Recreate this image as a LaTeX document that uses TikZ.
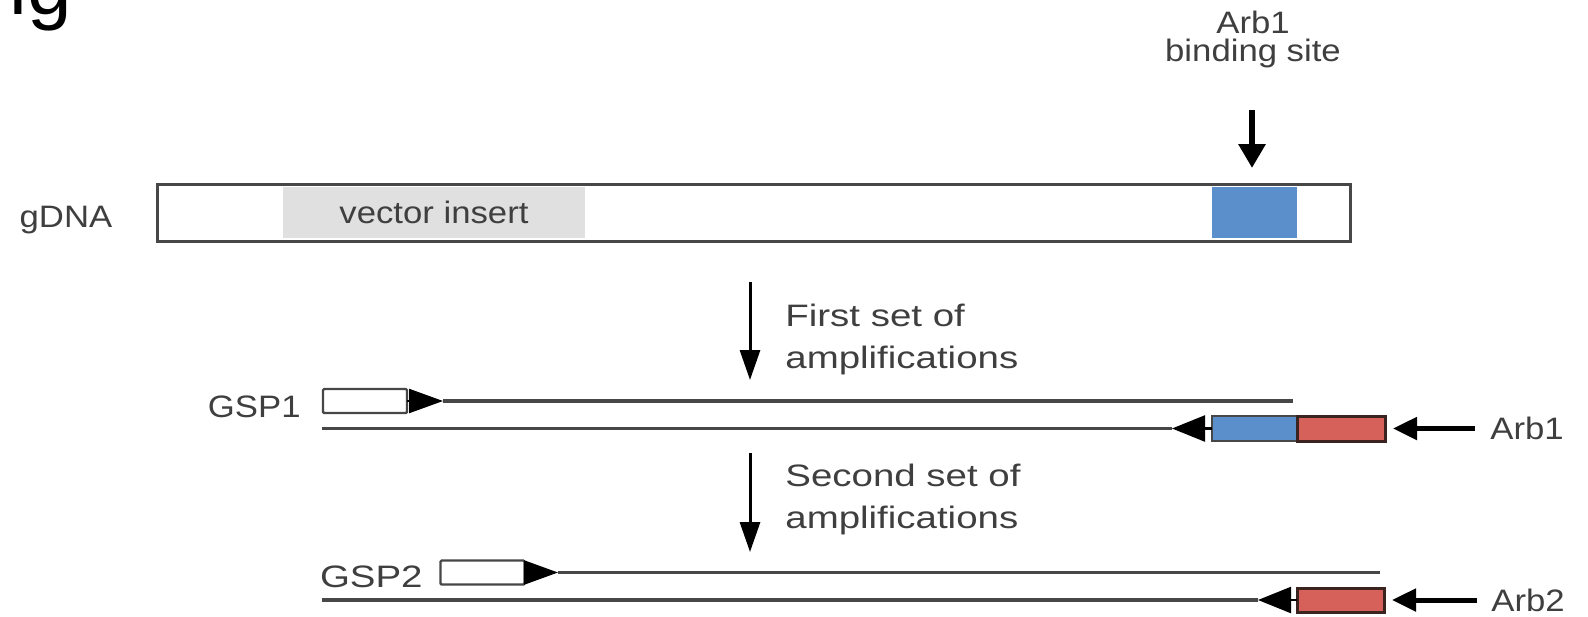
\documentclass[tikz,border=0pt]{standalone}
\usepackage{fontspec}
\setmainfont{Liberation Sans}[FakeStretch=1.12]
\newfontfamily\widefont{Liberation Sans}[FakeStretch=1.24]
\newfontfamily\bigfont{Liberation Sans}
\usetikzlibrary{arrows.meta}

\definecolor{txtgray}{HTML}{3F3F3F}
\definecolor{linegray}{HTML}{474747}
\definecolor{insertgray}{HTML}{E0E0E0}
\definecolor{siteblue}{HTML}{5B8FCC}
\definecolor{primerred}{HTML}{D6615A}
\definecolor{redborder}{HTML}{3B2320}

\begin{document}
\begin{tikzpicture}[x=0.5pt,y=-0.5pt,
  lbl/.style={text=txtgray, inner sep=0pt, font=\fontsize{15.5}{18}\selectfont},
  widelbl/.style={text=txtgray, inner sep=0pt, font=\widefont\fontsize{15.5}{21}\selectfont},
  region/.style={inner sep=0pt, outer sep=0pt, minimum height=25.5pt},
  bar/.style={draw=linegray, line width=1.5pt, inner sep=0pt, outer sep=0pt,
    minimum width=596.5pt, minimum height=28.5pt},
  primer/.style={draw=linegray, line width=1.2pt, fill=white, inner sep=0pt, outer sep=0pt,
    minimum width=42pt, minimum height=12pt, rounded corners=0.6pt},
  sitebox/.style={draw=linegray, line width=1pt, fill=siteblue, inner sep=0pt, outer sep=0pt,
    minimum width=42.5pt, minimum height=12.5pt},
  arbbox/.style={draw=redborder, line width=1.5pt, fill=primerred, inner sep=0pt, outer sep=0pt,
    minimum width=44pt, minimum height=12.5pt},
  strand/.style={draw=linegray, line width=1.6pt},
  fwdtip/.style={draw=black, line width=1.2pt, -{Triangle[length=17pt,width=12pt]}},
  revtip/.style={draw=black, line width=1.2pt, -{Triangle[length=16.5pt,width=13pt]}},
  amparrow/.style={draw=black, line width=1.5pt, -{Triangle[length=15pt,width=10pt]}},
  bigarrow/.style={draw=black, line width=3pt, -{Triangle[length=12pt,width=13pt]}},
  arbarrow/.style={draw=black, line width=2.5pt, -{Triangle[length=12pt,width=11pt]}}
]
\useasboundingbox (0,0) rectangle (1588,616);
\clip (0,0) rectangle (1588,616);
\fill[white] (0,0) rectangle (1588,616);

% panel letter, cut by the top edge
\node[anchor=base west, inner sep=0pt, font=\bigfont\fontsize{40}{40}\selectfont] (panel) at (9,14) {ig};

% genomic DNA bar with the vector insert and the Arb1 binding site
\node[region, fill=insertgray, minimum width=151pt, text=txtgray,
      font=\fontsize{15.5}{18}\selectfont] (insert) at (434,212.5) {vector insert};
\node[region, fill=siteblue, minimum width=42.5pt] (site) at (1254.5,212.5) {};
\node[bar] (gdna) at (753.5,212.5) {};
\node[lbl, anchor=base] (gdnaLbl) at (66,227) {gDNA};

\node[lbl, anchor=north, align=center, font=\fontsize{15.5}{14}\selectfont] (siteLbl) at (1253,11) {Arb1\\binding site};
\coordinate (siteTop) at (1252,110);
\draw[bigarrow, shorten >=9.5pt] (siteTop) -- (siteTop |- site.north);

% first round of amplification
\coordinate (amp1Top) at (750,282);
\coordinate (amp1Tip) at (750,380);
\draw[amparrow] (amp1Top) -- (amp1Tip);
\node[widelbl, anchor=west, align=left] (amp1Lbl) at (785,339) {First set of\\amplifications};

\node[lbl, anchor=base east] (gsp1Lbl) at (301,417) {GSP1};
\node[primer] (gsp1) at (365,401) {};
\coordinate (gsp1Tip) at (443,401);
\coordinate (top1End) at (1293,401);
\draw[strand] (gsp1Tip) -- (top1End);
\draw[fwdtip] (gsp1.east) -- (gsp1Tip);

\node[sitebox] (arb1Site) at (1254.5,428.5) {};
\node[arbbox] (arb1) at (1341,428.5) {};
\coordinate (bot1Start) at (322,428.5);
\coordinate (bot1Tip) at (1172,428.5);
\draw[strand] (bot1Start) -- (bot1Tip);
\draw[revtip] (arb1Site.west) -- (bot1Tip);
\coordinate (arb1Tail) at (1475,428.5);
\draw[arbarrow, shorten >=4pt] (arb1Tail) -- (arb1.east);
\node[lbl, anchor=west] (arb1Lbl) at (1490,428.5) {Arb1};

% second round of amplification
\coordinate (amp2Top) at (750,453);
\coordinate (amp2Tip) at (750,552);
\draw[amparrow] (amp2Top) -- (amp2Tip);
\node[widelbl, anchor=west, align=left] (amp2Lbl) at (785,499) {Second set of\\amplifications};

\node[widelbl, anchor=base east] (gsp2Lbl) at (423,587) {GSP2};
\node[primer] (gsp2) at (482.5,572.5) {};
\coordinate (gsp2Tip) at (558,572.5);
\coordinate (top2End) at (1380,572.5);
\draw[strand] (gsp2Tip) -- (top2End);
\draw[fwdtip] (gsp2.east) -- (gsp2Tip);

\node[arbbox, minimum width=43.5pt, minimum height=12pt] (arb2) at (1340.5,600) {};
\coordinate (bot2Start) at (322,600);
\coordinate (bot2Tip) at (1258,600);
\draw[strand] (bot2Start) -- (bot2Tip);
\draw[revtip] (arb2.west) -- (bot2Tip);
\coordinate (arb2Tail) at (1477,600);
\draw[arbarrow, shorten >=4pt] (arb2Tail) -- (arb2.east);
\node[lbl, anchor=west] (arb2Lbl) at (1491,600) {Arb2};
\end{tikzpicture}
\end{document}
